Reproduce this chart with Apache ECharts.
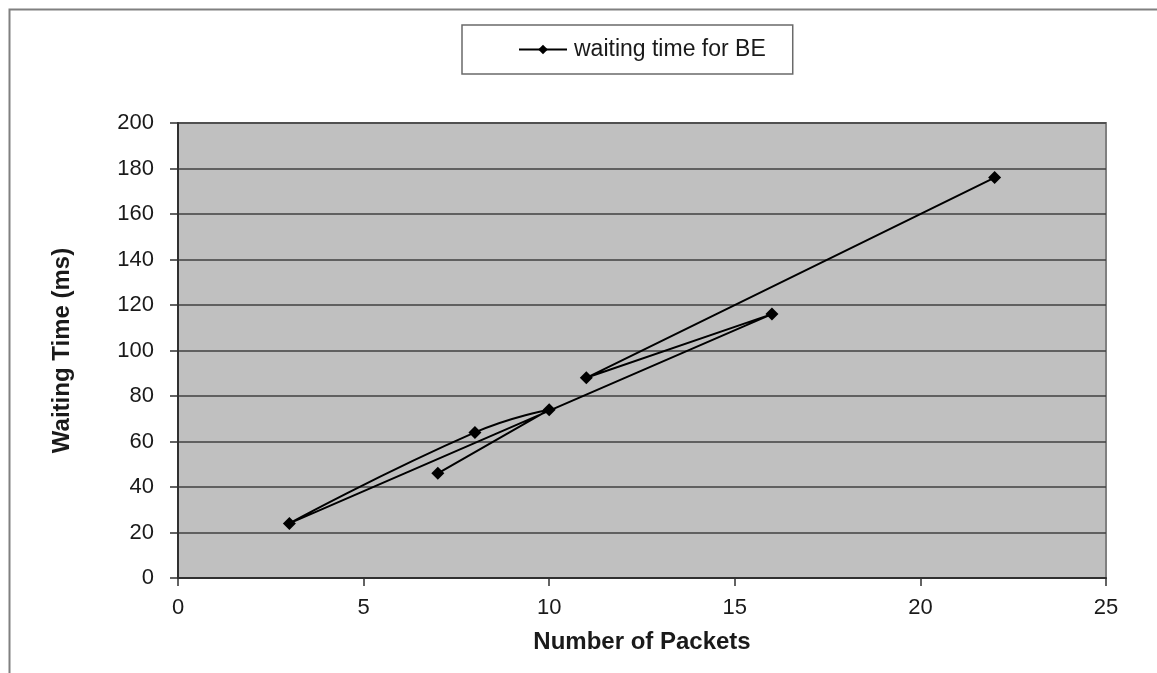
<!DOCTYPE html>
<html>
<head>
<meta charset="utf-8">
<script src="https://cdn.jsdelivr.net/npm/echarts@6/dist/echarts.min.js"></script>
<style>
  html, body { margin: 0; padding: 0; background: #ffffff; }
  #chart { width: 1157px; height: 673px; }
</style>
</head>
<body>
<div id="chart"></div>
<script>
// Measurement order as recorded (packets, waiting time in ms)
const packets = [7, 10, 8, 3, 16, 11, 22];
const waitingMs = [46, 74, 64, 24, 116, 88, 176];
const seriesName = 'waiting time for BE';
const xTicks = { min: 0, max: 25, interval: 5 };
const yTicks = { min: 0, max: 200, interval: 20 };

const points = packets.map((p, i) => [p, waitingMs[i]]);
const font = '"Liberation Sans", Arial, sans-serif';

const chart = echarts.init(document.getElementById('chart'), null, { renderer: 'canvas' });
chart.setOption({
  animation: false,
  backgroundColor: '#ffffff',
  graphic: [
    {
      type: 'rect',
      left: 7, top: 7,
      shape: { width: 1200, height: 720 },
      style: { fill: 'none', stroke: '#808080', lineWidth: 2 },
      silent: true
    }
  ],
  legend: {
    data: [seriesName],
    left: 462, top: 25,
    padding: [13, 27, 13, 56],
    itemWidth: 48, itemHeight: 12,
    itemGap: 4,
    backgroundColor: '#ffffff',
    borderColor: '#6a6a6a', borderWidth: 1.5,
    textStyle: { fontFamily: font, fontSize: 23, color: '#1a1a1a', padding: [0, 0, 0, 2] }
  },
  grid: {
    left: 178, top: 123, right: 51, bottom: 95,
    show: true,
    backgroundColor: '#c0c0c0',
    borderColor: '#808080', borderWidth: 2
  },
  xAxis: {
    type: 'value',
    min: xTicks.min, max: xTicks.max, interval: xTicks.interval,
    name: 'Number of Packets',
    nameLocation: 'middle', nameGap: 52,
    nameTextStyle: { fontFamily: font, fontSize: 24, fontWeight: 'bold', color: '#1a1a1a' },
    axisLine: { show: true, onZero: false, lineStyle: { color: '#303030', width: 2 } },
    axisTick: { show: true, length: 8, lineStyle: { color: '#303030', width: 1.5 } },
    axisLabel: { fontFamily: font, fontSize: 22, color: '#1a1a1a', margin: 19 },
    splitLine: { show: false }
  },
  yAxis: {
    type: 'value',
    min: yTicks.min, max: yTicks.max, interval: yTicks.interval,
    name: 'Waiting Time (ms)',
    nameLocation: 'middle', nameGap: 104, nameRotate: 90,
    nameTextStyle: { fontFamily: font, fontSize: 24, fontWeight: 'bold', color: '#1a1a1a' },
    axisLine: { show: true, lineStyle: { color: '#303030', width: 2 } },
    axisTick: { show: true, length: 8, lineStyle: { color: '#303030', width: 1.5 } },
    axisLabel: { fontFamily: font, fontSize: 22, color: '#1a1a1a', margin: 24 },
    splitLine: { show: true, lineStyle: { color: '#404040', width: 1.6 } }
  },
  series: [
    {
      name: seriesName,
      type: 'line',
      data: points,
      smooth: 0.5,
      symbol: 'diamond',
      symbolSize: 13,
      showAllSymbol: true,
      itemStyle: { color: '#000000' },
      lineStyle: { color: '#000000', width: 2 }
    }
  ]
});
</script>
</body>
</html>
